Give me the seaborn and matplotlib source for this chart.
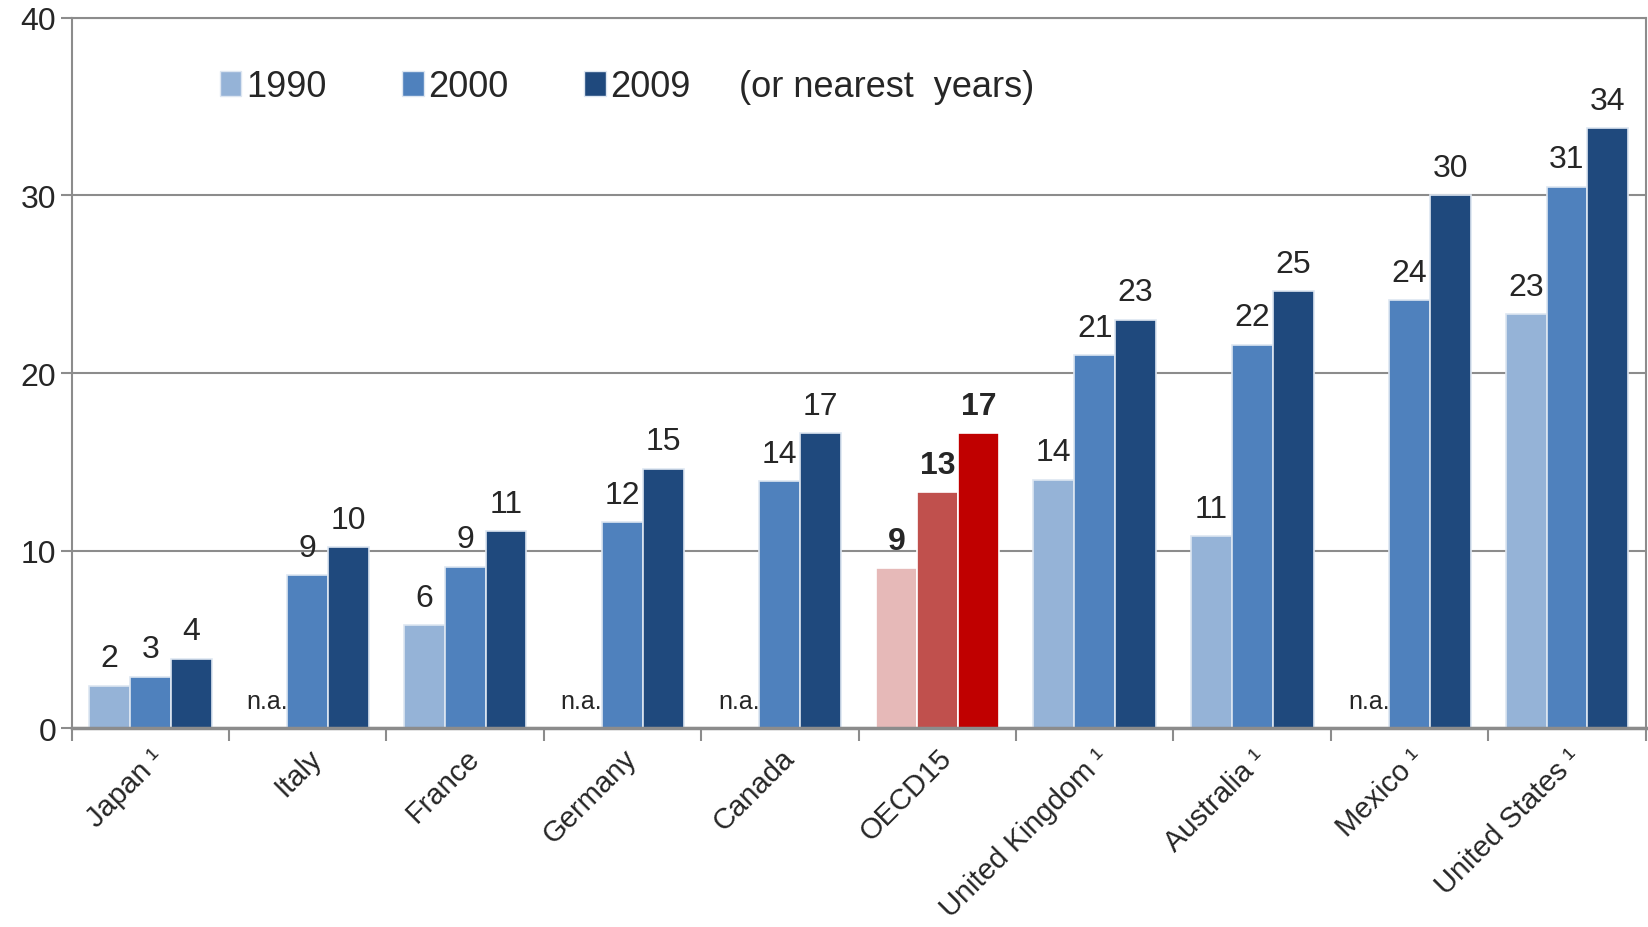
import numpy as np
import pandas as pd
import seaborn as sns
import matplotlib.pyplot as plt
import matplotlib.transforms as mtransforms
from matplotlib.patches import Patch

countries = ["Japan ¹", "Italy", "France", "Germany", "Canada", "OECD15",
             "United Kingdom ¹", "Australia ¹", "Mexico ¹", "United States ¹"]
years = ["1990", "2000", "2009"]
v1990 = [2.4, np.nan, 5.8, np.nan, np.nan, 9.0, 14.0, 10.8, np.nan, 23.3]
v2000 = [2.9, 8.6, 9.1, 11.6, 13.9, 13.3, 21.0, 21.6, 24.1, 30.5]
v2009 = [3.9, 10.2, 11.1, 14.6, 16.6, 16.6, 23.0, 24.6, 30.0, 33.8]
labels2000_us = "31"  # shown as 31 on the source chart

blues = ["#95b3d7", "#4f81bd", "#1f497d"]
reds = ["#e6b9b8", "#c0504d", "#c00000"]
highlight = "OECD15"

df = pd.DataFrame({
    "country": countries * 3,
    "year": np.repeat(years, len(countries)),
    "value": v1990 + v2000 + v2009,
})

sns.set_style("white")
plt.rcParams["font.family"] = ["Liberation Sans", "DejaVu Sans"]

fig = plt.figure(figsize=(16.49, 9.28), dpi=100)
ax = fig.add_axes([0.0434, 0.2143, 0.9546, 0.7653])

sns.barplot(data=df.dropna(), x="country", y="value", hue="year", order=countries,
            hue_order=years, palette=blues, width=0.78, gap=0, saturation=1,
            edgecolor="#dde6f1", linewidth=1.2, legend=False, ax=ax)

hi = countries.index(highlight)
for k, cont in enumerate(ax.containers):
    for bar in cont:
        cx = bar.get_x() + bar.get_width() / 2
        idx = int(round(cx))
        h = bar.get_height()
        bold = idx == hi
        if bold:
            bar.set_facecolor(reds[k])
            bar.set_edgecolor("white")
        txt = f"{h + 1e-9:.0f}"
        if k == 1 and idx == len(countries) - 1:
            txt = labels2000_us
        ax.annotate(txt, (cx, h), xytext=(0, 14), textcoords="offset points",
                    ha="center", va="baseline", fontsize=23,
                    fontweight="bold" if bold else "normal")

# n.a. markers where 1990 data is missing
for i, v in enumerate(v1990):
    if np.isnan(v):
        ax.text(i - 0.26, 1.55, "n.a.", ha="center", va="center", fontsize=18)

ax.set_ylim(0, 40)
ax.set_xlim(-0.5, len(countries) - 0.5)
ax.set_yticks([0, 10, 20, 30, 40])
ax.yaxis.grid(True, color="#8c8c8c", linewidth=1.5)
ax.set_axisbelow(True)
ax.set_xlabel("")
ax.set_ylabel("")

ax.set_xticks(np.arange(len(countries)))
ax.set_xticklabels(countries, rotation=45, ha="right", rotation_mode="anchor", fontsize=21)
shift = mtransforms.ScaledTranslation(-0.06, 0, fig.dpi_scale_trans)
for lab in ax.get_xticklabels():
    lab.set_transform(lab.get_transform() + shift)
ax.set_xticks(np.arange(len(countries) + 1) - 0.5, minor=True)
ax.tick_params(axis="x", which="major", length=0, pad=11)
ax.tick_params(axis="x", which="minor", length=9, width=1.5, color="#8c8c8c", direction="out")
ax.tick_params(axis="y", length=8, width=1.5, color="#8c8c8c", direction="out", labelsize=23, pad=3)
ax.tick_params(bottom=True, left=True, which="both")

for side in ["left", "right", "top"]:
    ax.spines[side].set_color("#8c8c8c")
    ax.spines[side].set_linewidth(1.5)
ax.spines["bottom"].set_color("#8c8c8c")
ax.spines["bottom"].set_linewidth(2.5)

handles = [Patch(facecolor=c, edgecolor="#dde6f1") for c in blues]
ax.legend(handles, years, loc="center left", bbox_to_anchor=(0.085, 0.903), ncol=3,
          frameon=False, fontsize=26, handlelength=0.6, handleheight=0.7,
          handletextpad=0.12, columnspacing=2.1, borderaxespad=0)
ax.text(0.424, 0.903, "(or nearest  years)", transform=ax.transAxes,
        ha="left", va="center", fontsize=26)

fig.savefig("out.png", dpi=100)
